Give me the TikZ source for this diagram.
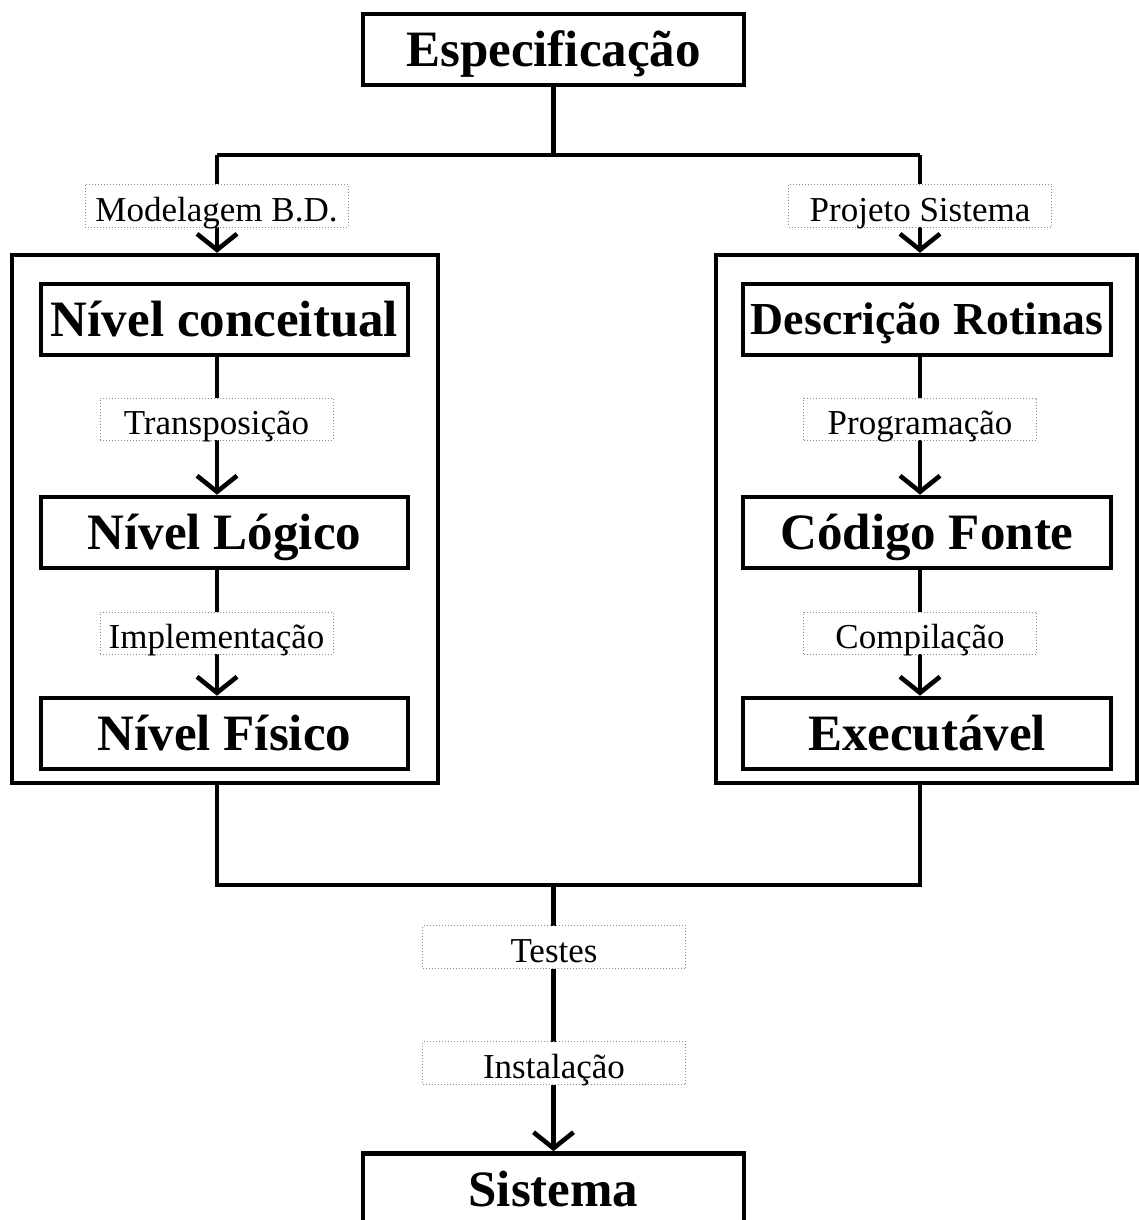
\documentclass[tikz,border=0pt]{standalone}
\usepackage{fontspec}
\setmainfont{Liberation Serif}
\definecolor{boxblack}{gray}{0.0}
\definecolor{lblgray}{gray}{0.55}
\usepackage{tikz}
\usetikzlibrary{arrows.meta,positioning,calc}
\tikzset{
  mainbox/.style={draw=boxblack,line width=2.3pt,fill=white,minimum height=35.5pt,
                  inner sep=0pt,text height=17pt,text depth=0pt,
                  font=\fontsize{25.5pt}{30pt}\selectfont\bfseries},
  groupbox/.style={draw=boxblack,line width=2.2pt,minimum width=213pt,minimum height=264pt,inner sep=0pt},
  steplbl/.style={draw=lblgray,densely dotted,line width=0.5pt,fill=white,
                  minimum width=131.5pt,minimum height=21.5pt,inner sep=0pt,
                  text height=15.6pt,text depth=0pt,
                  font=\fontsize{17.5pt}{21pt}\selectfont},
  flow/.style={line width=2.3pt,draw=boxblack},
  flowArrow/.style={->,line width=2.3pt,draw=boxblack},
}

\begin{document}
\begin{tikzpicture}[x=0.5pt,y=-0.5pt,>={Straight Barb[length=8pt,width=20pt]}]
  \useasboundingbox (0,0) rectangle (1139,1220);

  % columns
  \coordinate (colL) at (217,0);
  \coordinate (colR) at (920,0);
  \coordinate (topJ) at (553.5,155);
  \coordinate (botJ) at (553.5,885);

  \node[mainbox,minimum width=190.5pt] (espec) at (553.5,49.5) {Especificação};
  \node[mainbox,minimum width=190.5pt] (sistema) at (553.5,1189) {Sistema};

  \node[groupbox] (grpBD) at (225,519) {};
  \node[groupbox,minimum width=210.5pt] (grpSis) at (926.5,519) {};

  \node[mainbox,minimum width=183.5pt] (conceit) at (224.5,319.5) {Nível conceitual};
  \node[mainbox,minimum width=183.5pt] (logico) at (224.5,532.5) {Nível Lógico};
  \node[mainbox,minimum width=183.5pt] (fisico) at (224.5,733.5) {Nível Físico};

  \node[mainbox,minimum width=184pt,font=\fontsize{22.9pt}{27pt}\selectfont\bfseries,text height=15.2pt]
    (rotinas) at (927,319.5) {Descrição Rotinas};
  \node[mainbox,minimum width=184pt] (fonte) at (927,532.5) {Código Fonte};
  \node[mainbox,minimum width=184pt] (exec) at (927,733.5) {Executável};

  % ramificacao superior
  \draw[flow] (espec.south) -- (topJ);
  \draw[flow] (topJ -| colL) -- (topJ -| colR);
  \draw[flowArrow] (topJ -| colL) -- (grpBD.north -| colL);
  \draw[flowArrow] (topJ -| colR) -- (grpSis.north -| colR);

  \draw[flowArrow] (conceit.south -| colL) -- (logico.north -| colL);
  \draw[flowArrow] (logico.south -| colL) -- (fisico.north -| colL);
  \draw[flowArrow] (rotinas.south -| colR) -- (fonte.north -| colR);
  \draw[flowArrow] (fonte.south -| colR) -- (exec.north -| colR);

  % juncao inferior
  \draw[flow] (grpBD.south -| colL) -- (botJ -| colL) -- (botJ -| colR) -- (grpSis.south -| colR);
  \draw[flowArrow] (botJ) -- (sistema.north);

  \node[steplbl] (lblBD) at (216.5,205.5) {Modelagem B.D.};
  \node[steplbl] (lblProj) at (920,205.5) {Projeto Sistema};
  \node[steplbl,minimum width=116.5pt,minimum height=21pt] (lblTransp) at (216.5,419) {Transposição};
  \node[steplbl,minimum width=116.5pt,minimum height=21pt] (lblImpl) at (216.5,633) {Implementação};
  \node[steplbl,minimum width=116.5pt,minimum height=21pt] (lblProg) at (920,419) {Programação};
  \node[steplbl,minimum width=116.5pt,minimum height=21pt] (lblComp) at (920,633) {Compilação};
  \node[steplbl] (lblTestes) at (554,947) {Testes};
  \node[steplbl] (lblInst) at (554,1063) {Instalação};
\end{tikzpicture}
\end{document}
